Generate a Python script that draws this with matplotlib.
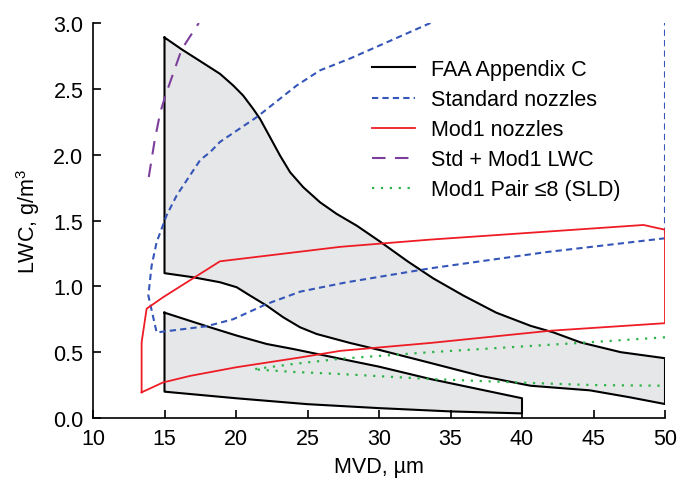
import matplotlib
matplotlib.use("Agg")
import matplotlib.pyplot as plt

plt.rcParams['font.family'] = ['Liberation Sans', 'DejaVu Sans']
plt.rcParams['mathtext.fontset'] = 'custom'
plt.rcParams['mathtext.rm'] = 'Liberation Sans'
plt.rcParams['mathtext.it'] = 'Liberation Sans'

# FAA Appendix C - upper (continuous-max) envelope
faa1_top_x = [15, 16.2, 17.5, 18.88, 19.81, 20.5, 21.2, 21.68, 22.38, 23.08, 23.78, 24.7,
              25.87, 27.04, 28.44, 30.07, 32.0, 33.8, 35.9, 38.2, 40.6, 42.2, 44.1, 46.9, 50]
faa1_top_y = [2.89, 2.80, 2.71, 2.614, 2.525, 2.449, 2.348, 2.272, 2.133, 1.993, 1.867, 1.753,
              1.639, 1.55, 1.461, 1.34, 1.19, 1.06, 0.93, 0.80, 0.70, 0.65, 0.574, 0.50, 0.454]
faa1_bot_x = [15, 17.0, 18.88, 20.05, 20.98, 22.15, 23.3, 24.48, 25.64, 27.97, 30.1, 33.6,
              37.1, 40.6, 44.75, 47.55, 50]
faa1_bot_y = [1.10, 1.069, 1.031, 0.993, 0.93, 0.853, 0.765, 0.689, 0.638, 0.57, 0.515, 0.418,
              0.32, 0.245, 0.21, 0.157, 0.106]

# FAA Appendix C - lower envelope (15-40 um)
faa2_top_x = [15, 18.18, 20.05, 22.15, 24.0, 27.3, 30, 33.6, 40]
faa2_top_y = [0.80, 0.689, 0.626, 0.562, 0.524, 0.45, 0.39, 0.296, 0.15]
faa2_bot_x = [15, 20, 25, 30, 35, 40]
faa2_bot_y = [0.20, 0.15, 0.105, 0.075, 0.05, 0.035]

# Standard nozzles
std_x = [33.6, 27.97, 25.87, 24.24, 21.45, 18.88, 18.2, 17.5, 15.85, 15.15, 14.45, 14.1,
         13.87, 14.45, 17.95, 19.8, 22.15, 24.5, 27.7, 33.6, 41.7, 50, 50]
std_y = [3.0, 2.73, 2.64, 2.525, 2.285, 2.097, 2.02, 1.96, 1.69, 1.54, 1.335, 1.157,
         0.93, 0.65, 0.697, 0.75, 0.866, 0.96, 1.03, 1.137, 1.26, 1.365, 3.0]

# Mod1 nozzles
mod1_x = [13.4, 13.4, 13.75, 14.9, 18.88, 27.3, 33.6, 48.5, 50, 50, 42, 33.6, 27.3,
          24.5, 20, 16.8, 14.9, 13.4]
mod1_y = [0.195, 0.575, 0.83, 0.917, 1.19, 1.30, 1.355, 1.466, 1.43, 0.72, 0.663, 0.57, 0.51,
          0.46, 0.385, 0.32, 0.27, 0.195]

# Std + Mod1 LWC
comb_x = [13.9, 14.3, 14.7, 15.1, 16.2, 17.4]
comb_y = [1.83, 2.10, 2.32, 2.46, 2.80, 3.0]

# Mod1 Pair <=8 (SLD)
sld_x = [50, 44, 33.6, 27.3, 24, 21.2, 24, 27.3, 33.6, 40.6, 45, 50]
sld_y = [0.613, 0.57, 0.50, 0.45, 0.41, 0.37, 0.35, 0.334, 0.296, 0.266, 0.25, 0.245]

labels = ["FAA Appendix C", "Standard nozzles", "Mod1 nozzles", "Std + Mod1 LWC",
          "Mod1 Pair \u22648 (SLD)"]

fig = plt.figure(figsize=(6.8, 4.81), dpi=100)
ax = fig.add_axes([93/680, 1-419/481, (665-93)/680, (419-24)/481])

fill_c = '#e6e7e8'
p1x = faa1_top_x + faa1_bot_x[::-1] + [faa1_top_x[0]]
p1y = faa1_top_y + faa1_bot_y[::-1] + [faa1_top_y[0]]
p2x = faa2_top_x + faa2_bot_x[::-1] + [faa2_top_x[0]]
p2y = faa2_top_y + faa2_bot_y[::-1] + [faa2_top_y[0]]
ax.fill(p1x, p1y, color=fill_c, zorder=1, lw=0)
ax.fill(p2x, p2y, color=fill_c, zorder=1, lw=0)
l1, = ax.plot(p1x, p1y, color='black', lw=1.5, zorder=3, solid_joinstyle='round')
ax.plot(p2x, p2y, color='black', lw=1.5, zorder=3, solid_joinstyle='round')

l2, = ax.plot(std_x, std_y, color='#3556b8', lw=1.5, dashes=(3, 2), zorder=4)
l3, = ax.plot(mod1_x, mod1_y, color='#ee1c25', lw=1.3, zorder=4)
l4, = ax.plot(comb_x, comb_y, color='#7d3f9c', lw=1.5, dashes=(6.5, 4.5), zorder=4)
l5, = ax.plot(sld_x, sld_y, color='#2db34a', lw=1.6, dashes=(1, 3), zorder=4)

fs = 15.5
ax.set_xlim(10, 50)
ax.set_ylim(0, 3.0)
ax.set_xticks(range(10, 51, 5))
ax.set_yticks([0, 0.5, 1.0, 1.5, 2.0, 2.5, 3.0])
ax.set_yticklabels([f"{v:.1f}" for v in [0, 0.5, 1.0, 1.5, 2.0, 2.5, 3.0]])
ax.tick_params(direction='in', length=6, width=1.2, labelsize=fs, pad=7, colors='black')
for s in ['top', 'right']:
    ax.spines[s].set_visible(False)
for s in ['left', 'bottom']:
    ax.spines[s].set_linewidth(1.2)
ax.set_xlabel("MVD, \u00b5m", fontsize=fs, labelpad=5)
ax.set_ylabel("LWC, g/m$^3$", fontsize=fs, labelpad=8)

fig.legend([l1, l2, l3, l4, l5], labels, loc='upper left', bbox_to_anchor=(372/680, 1-60/481),
           frameon=False, fontsize=fs, handlelength=2.0, handletextpad=0.75,
           labelspacing=0.42, borderpad=0, borderaxespad=0)

fig.savefig("out.png", dpi=100)
